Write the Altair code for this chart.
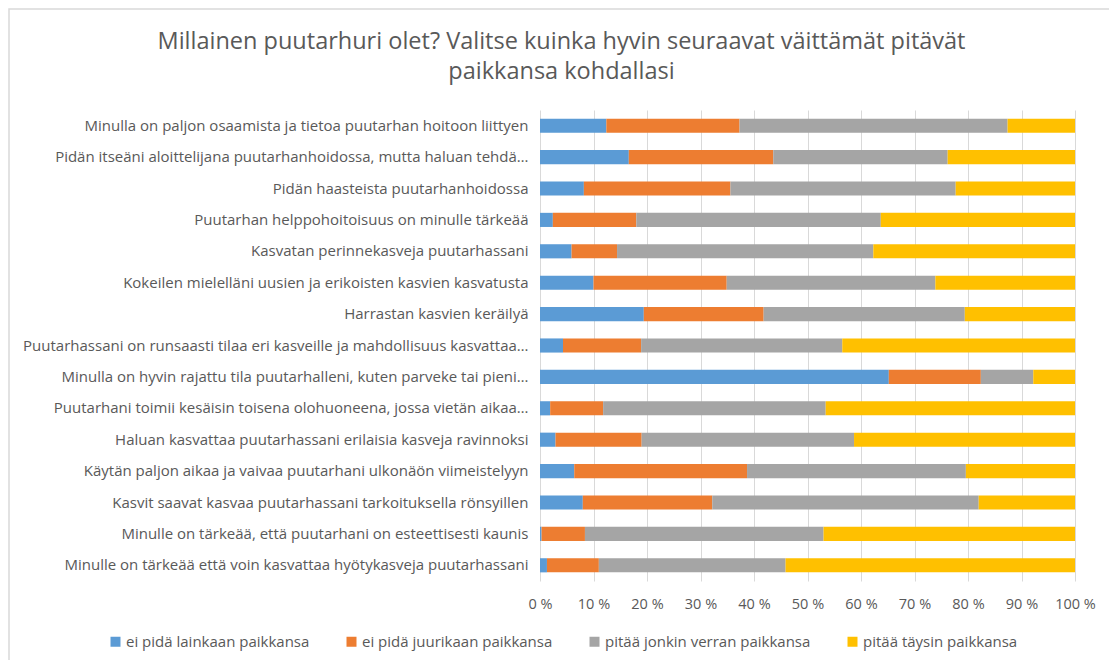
import altair as alt
import pandas as pd

statements = [
    "Minulla on paljon osaamista ja tietoa puutarhan hoitoon liittyen",
    "Pidän itseäni aloittelijana puutarhanhoidossa, mutta haluan tehdä…",
    "Pidän haasteista puutarhanhoidossa",
    "Puutarhan helppohoitoisuus on minulle tärkeää",
    "Kasvatan perinnekasveja puutarhassani",
    "Kokeilen mielelläni uusien ja erikoisten kasvien kasvatusta",
    "Harrastan kasvien keräilyä",
    "Puutarhassani on runsaasti tilaa eri kasveille ja mahdollisuus kasvattaa…",
    "Minulla on hyvin rajattu tila puutarhalleni, kuten parveke tai pieni…",
    "Puutarhani toimii kesäisin toisena olohuoneena, jossa vietän aikaa…",
    "Haluan kasvattaa puutarhassani erilaisia kasveja ravinnoksi",
    "Käytän paljon aikaa ja vaivaa puutarhani ulkonäön viimeistelyyn",
    "Kasvit saavat kasvaa puutarhassani tarkoituksella rönsyillen",
    "Minulle on tärkeää, että puutarhani on esteettisesti kaunis",
    "Minulle on tärkeää että voin kasvattaa hyötykasveja puutarhassani",
]

categories = [
    "ei pidä lainkaan paikkansa",
    "ei pidä juurikaan paikkansa",
    "pitää jonkin verran paikkansa",
    "pitää täysin paikkansa",
]

ei_lainkaan = [12.4, 16.6, 8.2, 2.4, 5.9, 10.0, 19.4, 4.3, 65.2, 1.9, 2.9, 6.4, 8.0, 0.3, 1.3]
ei_juurikaan = [24.9, 27.0, 27.4, 15.6, 8.5, 24.9, 22.4, 14.6, 17.2, 9.9, 16.1, 32.3, 24.2, 8.1, 9.7]
jonkin_verran = [50.1, 32.6, 42.1, 45.7, 47.9, 39.0, 37.6, 37.6, 9.8, 41.6, 39.7, 40.9, 49.8, 44.6, 34.9]
taysin = [12.6, 23.8, 22.3, 36.3, 37.7, 26.1, 20.6, 43.5, 7.8, 46.6, 41.3, 20.4, 18.0, 47.0, 54.1]

colors = ["#5b9bd5", "#ed7d31", "#a5a5a5", "#ffc000"]
x_ticks = [0, 0.1, 0.2, 0.3, 0.4, 0.5, 0.6, 0.7, 0.8, 0.9, 1.0]

series = [ei_lainkaan, ei_juurikaan, jonkin_verran, taysin]
rows = []
for ci, (cat, vals) in enumerate(zip(categories, series)):
    for s, v in zip(statements, vals):
        rows.append({"statement": s, "category": cat, "order": ci, "value": v})
df = pd.DataFrame(rows)

FONT = "Open Sans"
GRAY = "#595959"

bars = alt.Chart(df).mark_bar().encode(
    y=alt.Y(
        "statement:N",
        sort=statements,
        title=None,
        scale=alt.Scale(paddingInner=0.55, paddingOuter=0.275),
        axis=alt.Axis(
            domain=False, ticks=False, grid=False, labelLimit=600,
            labelFontSize=15, labelColor=GRAY, labelPadding=12, labelFont=FONT,
        ),
    ),
    x=alt.X(
        "value:Q",
        stack="normalize",
        title=None,
        scale=alt.Scale(domain=[0, 1], nice=False),
        axis=alt.Axis(
            values=x_ticks, labelExpr="round(datum.value*100) + ' %'",
            labelOverlap=False, labelFlush=False,
            domain=False, ticks=False, grid=True, gridColor="#d9d9d9",
            labelFontSize=14.5, labelColor=GRAY, labelPadding=16, labelFont=FONT,
        ),
    ),
    color=alt.Color(
        "category:N",
        sort=categories,
        scale=alt.Scale(domain=categories, range=colors),
        legend=alt.Legend(
            title=None, orient="none", legendX=-432, legendY=524,
            direction="horizontal", symbolType="square", symbolSize=100,
            symbolStrokeWidth=0, labelFontSize=15, labelColor=GRAY,
            labelFont=FONT, columnPadding=34, labelOffset=3, labelLimit=400,
        ),
    ),
    order=alt.Order("order:Q", sort="ascending"),
)

frame = alt.Chart(pd.DataFrame({"d": [0]})).mark_rect(
    fill=None, stroke="#d9d9d9", strokeWidth=1.5, clip=False
).encode(
    x=alt.value(-531), x2=alt.value(900),
    y=alt.value(-101), y2=alt.value(900),
)

chart = alt.layer(frame, bars).properties(
    width=535,
    height=471,
    padding={"left": 532, "top": 102, "right": 34, "bottom": 79},
    autosize=alt.AutoSizeParams(type="none"),
    title=alt.Title(
        ["Millainen puutarhuri olet? Valitse kuinka hyvin seuraavat väittämät pitävät",
         "paikkansa kohdallasi"],
        fontSize=23.5, font=FONT, fontWeight="normal", color=GRAY,
        anchor="middle", dx=-246, dy=75, lineHeight=30, offset=0,
    ),
).configure_view(stroke=None)

chart.save("out.html", embed_options={"renderer": "svg", "actions": False})
